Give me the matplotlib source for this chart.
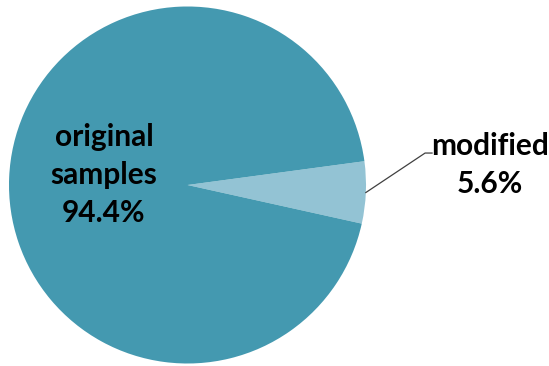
import matplotlib
matplotlib.use("Agg")
import matplotlib.pyplot as plt
import numpy as np

# share of samples
labels = ["modified", "original\nsamples"]
shares = [5.6, 94.4]
colors = ["#93C3D4", "#4499B0"]

fig = plt.figure(figsize=(5.49, 3.66), dpi=100)
ax = fig.add_axes([0, 0, 1, 1])

start = -12.5
wedges, _ = ax.pie(shares, colors=colors, startangle=start, counterclock=True,
                   radius=1.0, center=(0, 0),
                   wedgeprops=dict(linewidth=0))

ax.set_xlim(-1.0504, 2.0252)
ax.set_ylim(-1.014, 1.0364)
ax.set_aspect("auto")
ax.axis("off")

font = dict(family=["Lato", "DejaVu Sans"], fontweight="bold", fontsize=21.5, color="black")

# big slice label, inside
ax.text(-0.468, 0.056, f"{labels[1]}\n{shares[1]:.1f}%", ha="center", va="center",
        linespacing=1.42, **font)

# small slice label with leader line
mid = np.deg2rad(start + shares[0] / 100 * 360 / 2)
x0, y0 = np.cos(mid), np.sin(mid)
ax.plot([x0, 1.331, 1.370], [y0, 0.179, 0.179], color="#404040", lw=0.9)
ax.text(1.695, 0.112, f"{labels[0]}\n{shares[0]:.1f}%", ha="center", va="center",
        linespacing=1.42, **font)

fig.savefig("out.png", dpi=100)
